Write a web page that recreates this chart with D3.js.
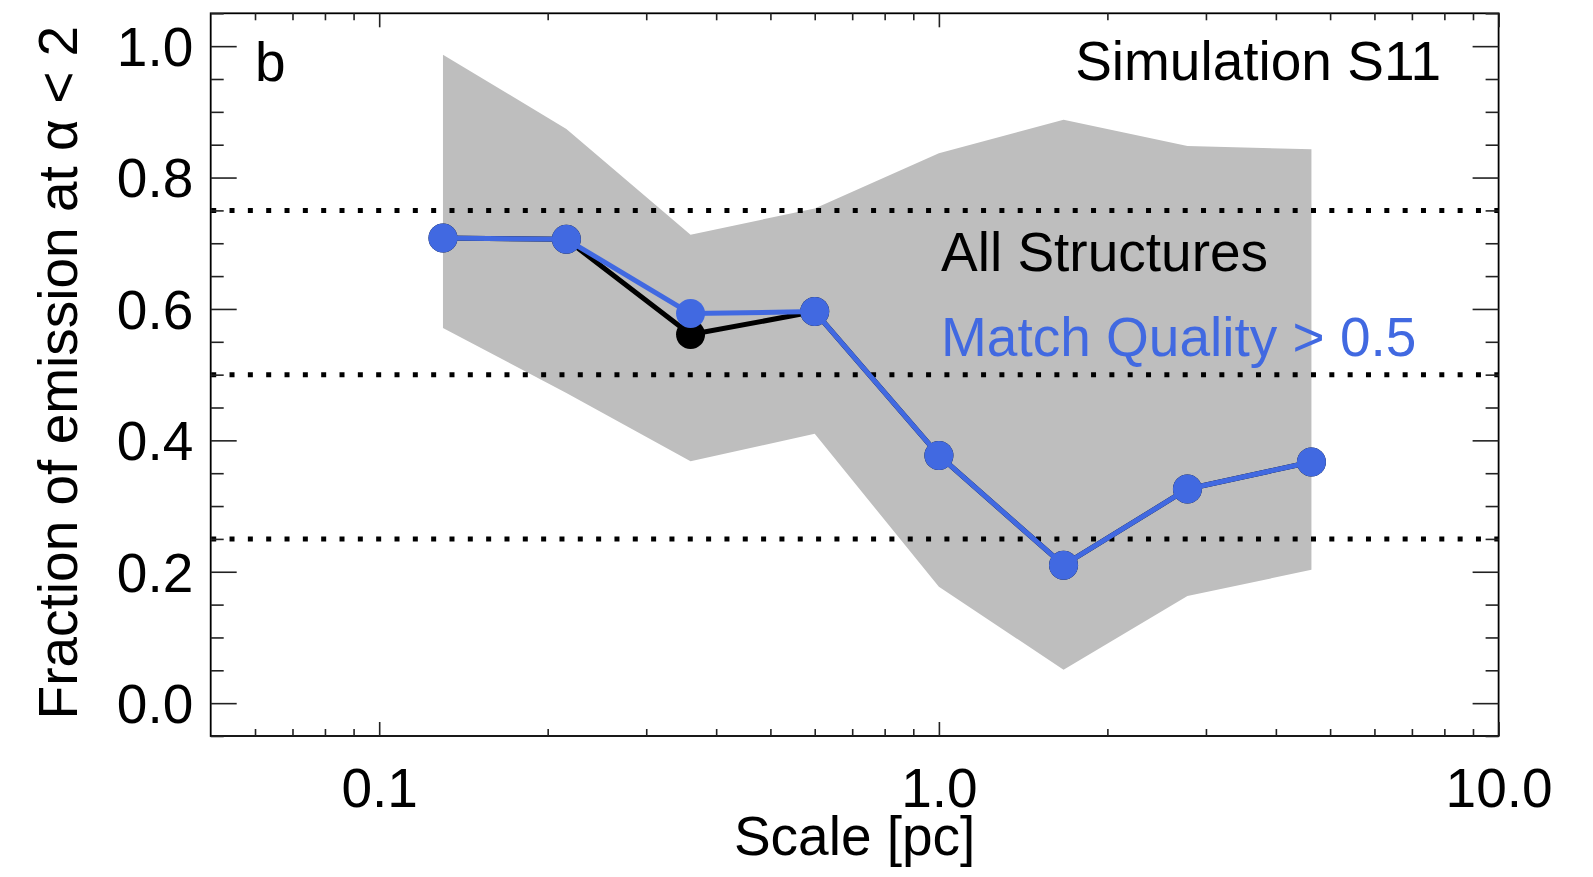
<!DOCTYPE html>
<html>
<head>
<meta charset="utf-8">
<script src="https://cdn.jsdelivr.net/npm/d3@7"></script>
<style>
  html, body { margin: 0; padding: 0; background: #fff; }
  svg { display: block; }
  text { font-family: "Liberation Sans", Arial, Helvetica, sans-serif; }
</style>
</head>
<body>
<svg id="chart" width="1593" height="877"></svg>
<script>
// Spatial scale of each bin [pc]
const scales = [0.13, 0.216, 0.36, 0.6, 1.0, 1.67, 2.78, 4.63];
// Fraction of emission at alpha < 2, all structures
const fracAll = [0.708, 0.706, 0.561, 0.596, 0.377, 0.210, 0.326, 0.367];
// Same, restricted to structures with match quality > 0.5
const fracMatch = [0.708, 0.706, 0.593, 0.596, 0.377, 0.210, 0.326, 0.367];
// Spread envelope (upper / lower bounds)
const bandUpper = [0.987, 0.874, 0.713, 0.753, 0.837, 0.888, 0.848, 0.843];
const bandLower = [0.571, 0.472, 0.368, 0.410, 0.177, 0.051, 0.163, 0.203];
// Reference levels
const refLevels = [0.25, 0.5, 0.75];
// Axis ticks
const xMajorTicks = [0.1, 1, 10];
const xMinorTicks = [0.06, 0.07, 0.08, 0.09, 0.2, 0.3, 0.4, 0.5, 0.6, 0.7, 0.8, 0.9, 2, 3, 4, 5, 6, 7, 8, 9];
const yMajorTicks = [0.0, 0.2, 0.4, 0.6, 0.8, 1.0];
const yMinorTicks = d3.range(-0.05, 1.051, 0.05).map(v => +v.toFixed(2)).filter(v => !yMajorTicks.includes(v));

const FONT = 55;
const BLUE = "#4169e1";
const GRAY = "#bebebe";

const svg = d3.select("#chart");
const plotL = 210.7, plotR = 1498.6, plotT = 13.3, plotB = 736;

const x = d3.scaleLog().domain([0.05, 10]).range([plotL, plotR]);
const y = d3.scaleLinear().domain([-0.05, 1.05]).range([plotB, plotT]);

const pts = scales.map((s, i) => ({ s, all: fracAll[i], match: fracMatch[i], hi: bandUpper[i], lo: bandLower[i] }));

// Shaded envelope
svg.append("path")
  .datum(pts)
  .attr("fill", GRAY)
  .attr("d", d3.area().x(d => x(d.s)).y0(d => y(d.lo)).y1(d => y(d.hi)));

// Dotted reference levels
svg.append("g").selectAll("line")
  .data(refLevels)
  .join("line")
  .attr("x1", plotL + 0.5).attr("x2", plotR)
  .attr("y1", d => y(d)).attr("y2", d => y(d))
  .attr("stroke", "#000")
  .attr("stroke-width", 5)
  .attr("stroke-dasharray", "5 13.33");

// Series: black first, blue on top
function drawSeries(key, color) {
  const g = svg.append("g");
  g.append("path")
    .datum(pts)
    .attr("fill", "none")
    .attr("stroke", color)
    .attr("stroke-width", 5)
    .attr("stroke-linejoin", "round")
    .attr("d", d3.line().x(d => x(d.s)).y(d => y(d[key])));
  g.selectAll("circle")
    .data(pts)
    .join("circle")
    .attr("cx", d => x(d.s))
    .attr("cy", d => y(d[key]))
    .attr("r", 14.5)
    .attr("fill", color);
}
drawSeries("all", "#000");
drawSeries("match", BLUE);

// Annotations
svg.append("text").attr("x", 255).attr("y", 81).attr("font-size", FONT).text("b");
svg.append("text").attr("x", 1441).attr("y", 80).attr("font-size", FONT)
  .attr("text-anchor", "end").text("Simulation S11");
svg.append("text").attr("x", 941).attr("y", 270.7).attr("font-size", FONT)
  .attr("fill", "#000").text("All Structures");
svg.append("text").attr("x", 941).attr("y", 355.7).attr("font-size", FONT)
  .attr("fill", BLUE).text("Match Quality > 0.5");

// Frame
svg.append("rect")
  .attr("x", plotL).attr("y", plotT)
  .attr("width", plotR - plotL).attr("height", plotB - plotT)
  .attr("fill", "none").attr("stroke", "#000").attr("stroke-width", 1.8);

function styleAxis(g) {
  g.select(".domain").remove();
  g.selectAll(".tick line").attr("stroke", "#222").attr("stroke-width", 1.6);
  g.selectAll("text").attr("font-size", FONT).attr("fill", "#000")
    .attr("font-family", "'Liberation Sans', Arial, Helvetica, sans-serif");
}

// Bottom axis (labelled) and its minor ticks
svg.append("g").attr("transform", `translate(0,${plotB})`)
  .call(d3.axisBottom(x).tickValues(xMajorTicks).tickFormat(d3.format(".1f"))
    .tickSizeInner(-14).tickSizeOuter(0).tickPadding(31.7))
  .call(styleAxis);
svg.append("g").attr("transform", `translate(0,${plotB})`)
  .call(d3.axisBottom(x).tickValues(xMinorTicks).tickFormat("").tickSizeInner(-7).tickSizeOuter(0))
  .call(styleAxis);
// Top axis mirror
svg.append("g").attr("transform", `translate(0,${plotT})`)
  .call(d3.axisTop(x).tickValues(xMajorTicks).tickFormat("").tickSizeInner(-14).tickSizeOuter(0))
  .call(styleAxis);
svg.append("g").attr("transform", `translate(0,${plotT})`)
  .call(d3.axisTop(x).tickValues(xMinorTicks).tickFormat("").tickSizeInner(-7).tickSizeOuter(0))
  .call(styleAxis);

// Left axis (labelled) and minor ticks
svg.append("g").attr("transform", `translate(${plotL},0)`)
  .call(d3.axisLeft(y).tickValues(yMajorTicks).tickFormat(d3.format(".1f"))
    .tickSizeInner(-26).tickSizeOuter(0).tickPadding(17.4))
  .call(styleAxis)
  .call(g => g.selectAll("text").attr("dy", "0.35em"));
svg.append("g").attr("transform", `translate(${plotL},0)`)
  .call(d3.axisLeft(y).tickValues(yMinorTicks).tickFormat("").tickSizeInner(-13).tickSizeOuter(0))
  .call(styleAxis);
// Right axis mirror
svg.append("g").attr("transform", `translate(${plotR},0)`)
  .call(d3.axisRight(y).tickValues(yMajorTicks).tickFormat("").tickSizeInner(-26).tickSizeOuter(0))
  .call(styleAxis);
svg.append("g").attr("transform", `translate(${plotR},0)`)
  .call(d3.axisRight(y).tickValues(yMinorTicks).tickFormat("").tickSizeInner(-13).tickSizeOuter(0))
  .call(styleAxis);

// Axis titles
svg.append("text")
  .attr("x", (plotL + plotR) / 2).attr("y", 855)
  .attr("text-anchor", "middle").attr("font-size", FONT)
  .text("Scale [pc]");
svg.append("text")
  .attr("transform", `translate(77,${(plotT + plotB) / 2 - 2}) rotate(-90)`)
  .attr("text-anchor", "middle").attr("font-size", FONT)
  .text("Fraction of emission at α < 2");
</script>
</body>
</html>
